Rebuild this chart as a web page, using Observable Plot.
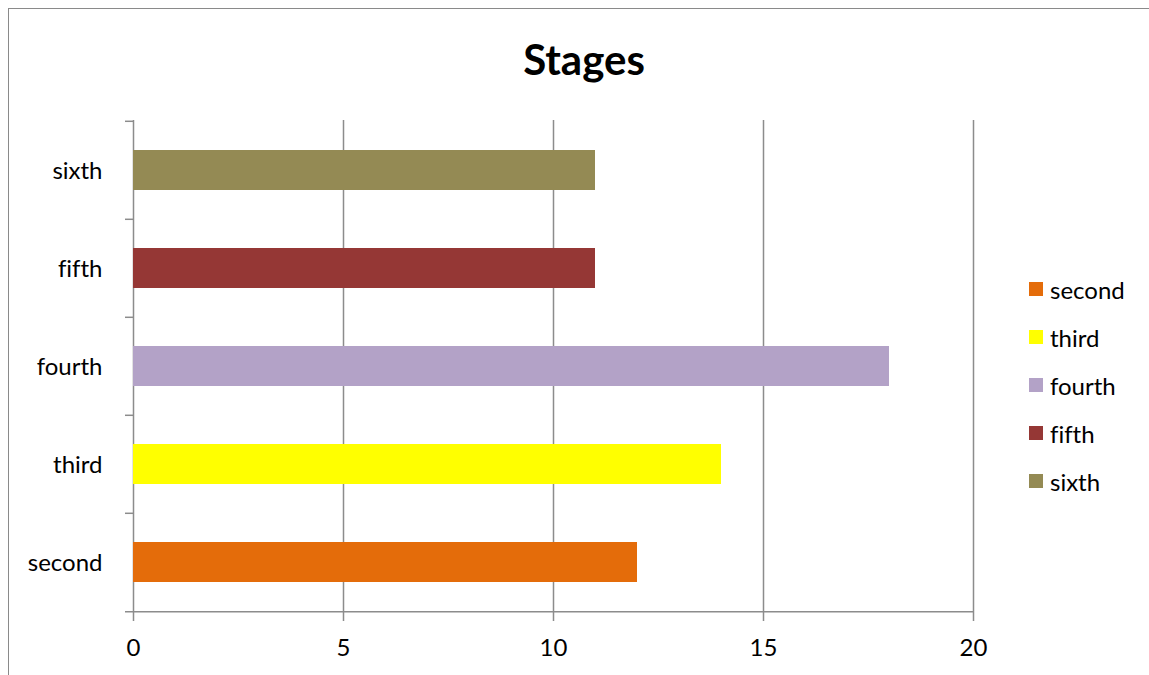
<!DOCTYPE html>
<html><head><meta charset="utf-8">
<script src="https://cdn.jsdelivr.net/npm/d3@7"></script>
<script src="https://cdn.jsdelivr.net/npm/@observablehq/plot@0.6"></script>
<style>
body{margin:0;background:#fff;font-family:Lato,"Open Sans",sans-serif;font-variant-ligatures:none;}
#wrap{position:relative;width:1149px;height:675px;overflow:hidden;}
#frame{position:absolute;left:8px;top:8px;width:1200px;height:700px;border-top:1.5px solid #8a8a8a;border-left:1.5px solid #8a8a8a;}
#title{position:absolute;left:0;width:1168px;top:38px;text-align:center;font-weight:bold;font-size:42px;line-height:1;}
#chart{position:absolute;left:0;top:0;}
#chart svg text{font-variant-ligatures:none;}
#legend{position:absolute;left:1029px;top:265px;}
.item{display:flex;align-items:center;height:48px;font-size:24px;}
.sw{width:14px;height:14px;margin-right:7px;}
</style></head>
<body><div id="wrap"><div id="frame"></div><div id="chart"></div><div id="title">Stages</div><div id="legend"></div></div>
<script>
const categories = ["second","third","fourth","fifth","sixth"];
const values = [12, 14, 18, 11, 11];
const colors = ["#E46C0A","#FFFF00","#B3A2C7","#953735","#948A54"];
const xTicks = [0, 5, 10, 15, 20];
const data = categories.map((c, i) => ({stage: c, value: values[i]}));
const step = (612 - 120) / categories.length;
const chart = Plot.plot({
  width: 1149, height: 675, marginLeft: 133, marginRight: 176, marginTop: 120, marginBottom: 63,
  style: {fontFamily: "Lato, 'Open Sans', sans-serif", fontSize: "24px", color: "#000", background: "transparent"},
  x: {domain: [0, 20], ticks: xTicks},
  y: {domain: categories.slice().reverse(), paddingInner: 0.593, paddingOuter: 0.2966},
  color: {domain: categories, range: colors},
  marks: [
    Plot.ruleX(xTicks, {stroke: "#8c8c8c", strokeWidth: 1.5, insetBottom: -9}),
    Plot.ruleY(categories, {y: d => d, x1: 0, x2: 0, insetLeft: -8, dy: -step / 2, stroke: "#8c8c8c", strokeWidth: 1.5}),
    Plot.ruleY(["second"], {y: d => d, x1: 0, x2: 20, insetLeft: -8, dy: step / 2, stroke: "#8c8c8c", strokeWidth: 1.5}),
    Plot.barX(data, {x: "value", y: "stage", fill: "stage"}),
    Plot.axisX({ticks: xTicks, tickSize: 0, tickPadding: 26, fontSize: 24, label: null}),
    Plot.axisY({tickSize: 0, tickPadding: 31, fontSize: 24, label: null, dy: 1})
  ]
});
document.getElementById("chart").appendChild(chart);
const color = chart.scale("color");
const legend = document.getElementById("legend");
categories.forEach(c => {
  const item = document.createElement("div");
  item.className = "item";
  const sw = document.createElement("div");
  sw.className = "sw";
  sw.style.background = color.apply(c);
  const t = document.createElement("span");
  t.textContent = c;
  item.appendChild(sw); item.appendChild(t);
  legend.appendChild(item);
});
</script>
</body></html>
